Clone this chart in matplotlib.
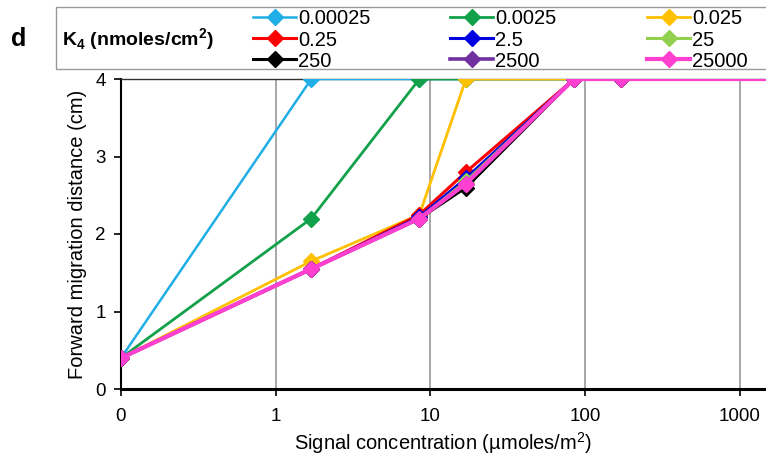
import matplotlib
matplotlib.use("Agg")
import matplotlib.pyplot as plt
from matplotlib.patches import Rectangle

plt.rcParams['font.family'] = ['Liberation Sans', 'DejaVu Sans']
plt.rcParams['mathtext.fontset'] = 'custom'
plt.rcParams['mathtext.rm'] = 'Liberation Sans'
plt.rcParams['mathtext.bf'] = 'Liberation Sans:bold'

# data
x_labels = ["0", "1", "10", "100", "1000"]
x_ticks = [0.1, 1, 10, 100, 1000]
conc = [0.1, 1.7, 8.5, 17, 85, 170, 1700]   # first point is 0 (plotted at the "0" position)
k4_labels = ["0.00025", "0.0025", "0.025", "0.25", "2.5", "25", "250", "2500", "25000"]
y_000025 = [0.4, 4.0, 4.0, 4.0, 4.0, 4.0, 4.0]
y_00025 = [0.4, 2.2, 4.0, 4.0, 4.0, 4.0, 4.0]
y_0025 = [0.4, 1.65, 2.25, 4.0, 4.0, 4.0, 4.0]
y_025 = [0.4, 1.55, 2.25, 2.8, 4.0, 4.0, 4.0]
y_25 = [0.4, 1.55, 2.22, 2.72, 4.0, 4.0, 4.0]
y_25b = [0.4, 1.55, 2.2, 2.68, 4.0, 4.0, 4.0]
y_250 = [0.4, 1.55, 2.2, 2.6, 4.0, 4.0, 4.0]
y_2500 = [0.4, 1.55, 2.2, 2.65, 4.0, 4.0, 4.0]
y_25000 = [0.4, 1.55, 2.2, 2.65, 4.0, 4.0, 4.0]
series = [y_000025, y_00025, y_0025, y_025, y_25, y_25b, y_250, y_2500, y_25000]
colors = ["#1FAEE6", "#12A14B", "#FFC000", "#FF0000", "#0000E0", "#92D050", "#000000", "#7030A0", "#FF3FD0"]
lws = [1.8, 2, 2, 2.2, 2.2, 2.2, 2.2, 2.6, 3]

fig = plt.figure(figsize=(7.66, 4.55), dpi=100)
ax = fig.add_axes([121/766, 1-389/455, 1-121/766, (389-79)/455])

handles = []
for ys, c, lw, lab in zip(series, colors, lws, k4_labels):
    h, = ax.plot(conc, ys, color=c, lw=lw, marker='D', ms=8, mec=c, mfc=c,
                 label=lab, clip_on=True, zorder=3)
    handles.append(h)

ax.set_xscale('log')
ax.set_xlim(0.1, 1480)
ax.set_ylim(0, 4)
ax.set_xticks(x_ticks)
ax.set_xticklabels(x_labels)
ax.minorticks_off()
ax.set_yticks([0, 1, 2, 3, 4])
ax.tick_params(axis='both', labelsize=13.5, length=5, width=1.2, direction='out')
ax.tick_params(axis='x', pad=9)
ax.tick_params(axis='y', pad=6)
ax.grid(axis='x', color='#A0A0A0', lw=1.3)
ax.set_axisbelow(True)
for g in ax.get_xgridlines()[:1]:
    g.set_visible(False)
ax.spines['right'].set_visible(False)
ax.spines['top'].set_color('#333333')
ax.spines['top'].set_linewidth(1.0)
ax.spines['left'].set_linewidth(1.5)
ax.spines['bottom'].set_linewidth(2.2)
ax.set_xlabel("Signal concentration (µmoles/m$^2$)", fontsize=14.5, labelpad=3)
ax.set_ylabel("Forward migration distance (cm)", fontsize=14.5, labelpad=6)

# legend frame and titles
fig.patches.append(Rectangle((56/766, 1-69/455), 1, 62/455, transform=fig.transFigure,
                             fill=False, ec='#999999', lw=1))
fig.text(11/766, 1-39/455, "d", fontsize=18, fontweight='bold', va='center', ha='left')
fig.text(62/766, 1-40/455, r"K$_\mathbf{4}$ (nmoles/cm$^\mathbf{2}$)", fontsize=14,
         fontweight='bold', va='center', ha='left')

col_x = [253, 450, 647]
for ci in range(3):
    idx = [ci, ci + 3, ci + 6]
    fig.legend([handles[i] for i in idx], [k4_labels[i] for i in idx],
               loc='center left', bbox_to_anchor=(col_x[ci]/766, 1-40/455),
               frameon=False, fontsize=14.5, handlelength=2.15, handletextpad=0.1,
               labelspacing=0.1, borderpad=0, borderaxespad=0)

fig.savefig("out.png", dpi=100)
